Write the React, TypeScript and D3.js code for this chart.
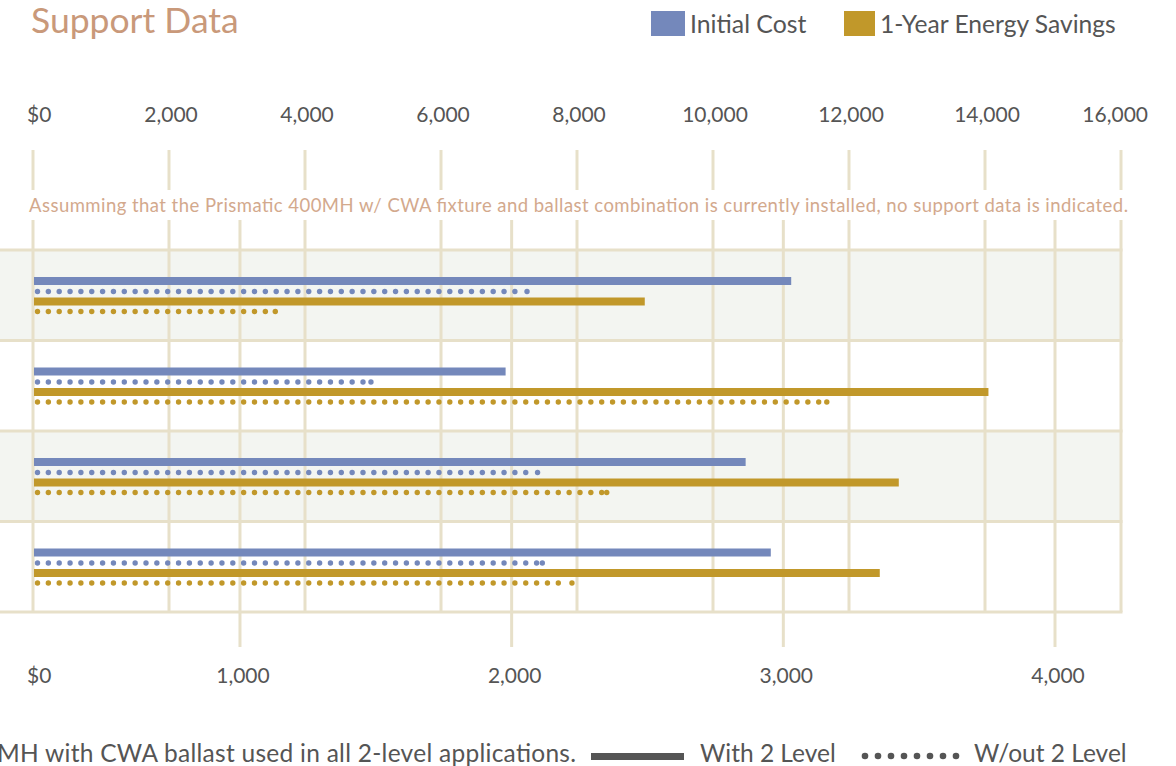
import React from 'react';
import * as d3 from 'd3';

// Rows (labels are not visible in the chart)
const categories = ['Row 1', 'Row 2', 'Row 3', 'Row 4'];
// Initial cost ($) — top axis
const costWith = [11150, 6950, 10480, 10850];
const costWithout = [7265, 4970, 7420, 7490];
// 1-year energy savings ($) — bottom axis
const savingsWith = [2490, 3755, 3425, 3355];
const savingsWithout = [1130, 3160, 2350, 2222];

const costTicks = [0, 2000, 4000, 6000, 8000, 10000, 12000, 14000, 16000];
const savingsTicks = [0, 1000, 2000, 3000, 4000];

const seriesNames = ['Initial Cost', '1-Year Energy Savings'];
const lineStyleNames = ['With 2 Level', 'W/out 2 Level'];
const titleText = 'Support Data';
const noteText =
  'Assumming that the Prismatic 400MH w/ CWA fixture and ballast combination is currently installed, no support data is indicated.';
const footText = 'MH with CWA ballast used in all 2-level applications.';

const W = 1176;
const H = 766;
const BLUE = '#7488bb';
const GOLD = '#c1982a';
const GRID = '#e7e0c9';
const SHADE = '#f3f5f1';
const LABEL = '#555555';
const FONT = 'Lato, "Open Sans", sans-serif';

export default function App() {
  const plotLeft = 33;
  const plotRight = 1121;
  const plotTop = 250;
  const plotBottom = 612;

  const xCost = d3.scaleLinear().domain([0, 16000]).range([plotLeft, plotRight]);
  const xSav = d3.scaleLinear().domain([0, 4000]).range([-31.7, 1055]);
  const y = d3
    .scaleBand<string>()
    .domain(categories)
    .range([plotTop, plotBottom])
    .padding(0);

  const fmt = d3.format(',');
  const costLabel = (v: number) => (v === 0 ? '$0' : fmt(v));

  const gridXs = [
    ...costTicks.map((t) => xCost(t)),
    ...savingsTicks.filter((t) => t > 0).map((t) => xSav(t)),
  ];

  const dotXs = (start: number, end: number) => {
    const xs = d3.range(start + 3.5, end - 3, 10.85);
    xs.push(end);
    return xs;
  };

  const offs = [31, 41.5, 51.5, 61.5];

  return (
    <svg
      width={W}
      height={H}
      style={{ position: 'absolute', left: 0, top: 0, background: '#fff' }}
      fontFamily={FONT}
    >
      {/* Title */}
      <text x={31} y={33} fontSize={35.5} fill="#c9997a">
        {titleText}
      </text>

      {/* Top legend */}
      <rect x={651} y={11} width={34} height={25} fill={BLUE} />
      <text x={690} y={33} fontSize={24.8} fill={LABEL}>
        {seriesNames[0]}
      </text>
      <rect x={844} y={11} width={31} height={25} fill={GOLD} />
      <text x={880} y={33} fontSize={24.6} fill={LABEL}>
        {seriesNames[1]}
      </text>

      {/* Top axis labels */}
      {costTicks.map((t, i) => {
        const last = i === costTicks.length - 1;
        const first = i === 0;
        return (
          <text
            key={'ct' + t}
            x={first ? 27 : last ? 1148 : xCost(t) + 2}
            y={122}
            fontSize={21}
            fill={LABEL}
            textAnchor={first ? 'start' : last ? 'end' : 'middle'}
          >
            {costLabel(t)}
          </text>
        );
      })}
      {/* Top ticks */}
      {costTicks.map((t) => (
        <line
          key={'ctk' + t}
          x1={xCost(t)}
          x2={xCost(t)}
          y1={150}
          y2={190}
          stroke={GRID}
          strokeWidth={3}
        />
      ))}

      {/* Note */}
      <text x={29} y={212} fontSize={18.5} fill="#d3a98d" textLength={1099} lengthAdjust="spacing">
        {noteText}
      </text>

      {/* Row bands */}
      {categories.map((c, i) => (
        <rect
          key={'band' + c}
          x={0}
          y={y(c)}
          width={plotRight}
          height={y.bandwidth()}
          fill={i % 2 === 0 ? SHADE : '#ffffff'}
        />
      ))}

      {/* Vertical grid */}
      {gridXs.map((gx, i) => (
        <line
          key={'gx' + i}
          x1={gx}
          x2={gx}
          y1={220}
          y2={plotBottom}
          stroke={GRID}
          strokeWidth={3}
        />
      ))}
      {/* Horizontal grid */}
      {[...categories.map((c) => y(c) as number), plotBottom].map((gy, i) => (
        <line
          key={'gy' + i}
          x1={0}
          x2={plotRight + 1.5}
          y1={gy}
          y2={gy}
          stroke={GRID}
          strokeWidth={3}
        />
      ))}

      {/* Bars */}
      {categories.map((c, i) => {
        const top = y(c) as number;
        const x0 = plotLeft + 1;
        const sav0 = Math.max(xSav(0), x0);
        return (
          <g key={'bars' + c}>
            <rect
              x={x0}
              y={top + offs[0] - 4}
              width={xCost(costWith[i]) - x0}
              height={8}
              fill={BLUE}
            />
            {dotXs(x0, xCost(costWithout[i])).map((dx, k) => (
              <circle key={'cd' + k} cx={dx} cy={top + offs[1]} r={2.7} fill={BLUE} />
            ))}
            <rect
              x={sav0}
              y={top + offs[2] - 4}
              width={xSav(savingsWith[i]) - sav0}
              height={8}
              fill={GOLD}
            />
            {dotXs(sav0, xSav(savingsWithout[i])).map((dx, k) => (
              <circle key={'sd' + k} cx={dx} cy={top + offs[3]} r={2.7} fill={GOLD} />
            ))}
          </g>
        );
      })}

      {/* Bottom ticks */}
      {savingsTicks
        .filter((t) => t > 0)
        .map((t) => (
          <line
            key={'stk' + t}
            x1={xSav(t)}
            x2={xSav(t)}
            y1={plotBottom}
            y2={647}
            stroke={GRID}
            strokeWidth={3}
          />
        ))}
      {/* Bottom axis labels */}
      {savingsTicks.map((t, i) => (
        <text
          key={'st' + t}
          x={i === 0 ? 27 : xSav(t) + 3}
          y={683}
          fontSize={21}
          fill={LABEL}
          textAnchor={i === 0 ? 'start' : 'middle'}
        >
          {costLabel(t)}
        </text>
      ))}

      {/* Bottom legend */}
      <text x={-3} y={762} fontSize={24.5} fill={LABEL} textLength={579} lengthAdjust="spacing">
        {footText}
      </text>
      <line x1={591} x2={684} y1={756.5} y2={756.5} stroke={LABEL} strokeWidth={7} />
      <text x={700} y={762} fontSize={24.5} fill={LABEL}>
        {lineStyleNames[0]}
      </text>
      {d3.range(8).map((k) => (
        <circle key={'ld' + k} cx={865 + k * 13} cy={756} r={3.3} fill={LABEL} />
      ))}
      <text x={974} y={762} fontSize={24.5} fill={LABEL}>
        {lineStyleNames[1]}
      </text>
    </svg>
  );
}
